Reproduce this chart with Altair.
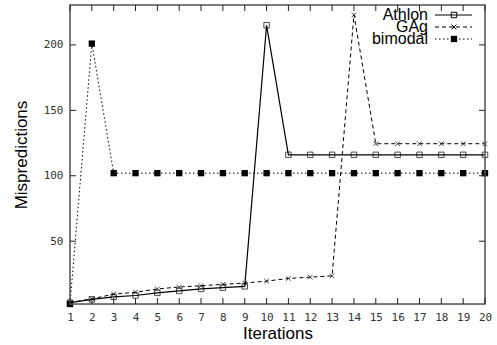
import altair as alt
import pandas as pd

iterations = list(range(1, 21))
athlon = [3, 5.5, 7.5, 8.5, 10.5, 12, 13.5, 14.5, 15.5, 215,
          116, 116, 116, 116, 116, 116, 116, 116, 116, 116]
gag = [3, 6, 9.5, 11, 13.5, 15, 16, 17, 18, 19.5,
       21.5, 22.5, 23.5, 223, 124.5, 124.5, 124.5, 124.5, 124.5, 124.5]
bimodal = [2, 201, 102, 102, 102, 102, 102, 102, 102, 102,
           102, 102, 102, 102, 102, 102, 102, 102, 102, 102]
y_ticks = [50, 100, 150, 200]
series_names = ["Athlon", "GAg", "bimodal"]

W, H = 415, 299
LABEL_FONT = "DejaVu Sans Mono"
TEXT_FONT = "Liberation Sans"

df = pd.DataFrame({"it": iterations, "Athlon": athlon, "GAg": gag, "bimodal": bimodal})
xs = alt.Scale(domain=[1, 20], nice=False, zero=False)
ys = alt.Scale(domain=[2, 230.5], nice=False, zero=False)

x_axis = alt.Axis(
    values=iterations, title="Iterations", domain=False, ticks=False, grid=False,
    labelFont=LABEL_FONT, labelFontSize=11, labelColor="#333", labelPadding=7,
    titleFont=TEXT_FONT, titleFontSize=17, titleFontWeight="normal", titleColor="#000",
    titlePadding=3, labelFlush=False)
y_axis = alt.Axis(
    values=y_ticks, title="Mispredictions", domain=False, ticks=False, grid=False,
    labelFont=LABEL_FONT, labelFontSize=11, labelColor="#333", labelPadding=7,
    titleFont=TEXT_FONT, titleFontSize=17, titleFontWeight="normal", titleColor="#000",
    titlePadding=13)


def X(field="it"):
    return alt.X(f"{field}:Q", scale=xs, axis=x_axis)


def Y(field):
    return alt.Y(f"{field}:Q", scale=ys, axis=y_axis)


base = alt.Chart(df)
square = "M-1,-1H1V1H-1Z"
xshape = "M-1,-1L1,1M-1,1L1,-1"

athlon_line = base.mark_line(color="#000", strokeWidth=1.2).encode(x=X(), y=Y("Athlon"))
athlon_pts = base.mark_point(shape=square, filled=False, color="#000", size=30, strokeWidth=1).encode(x=X(), y=Y("Athlon"))
gag_line = base.mark_line(color="#000", strokeWidth=1, strokeDash=[4, 3]).encode(x=X(), y=Y("GAg"))
gag_pts = base.mark_point(shape=xshape, filled=False, color="#000", size=22, strokeWidth=1).encode(x=X(), y=Y("GAg"))
bim_line = base.mark_line(color="#000", strokeWidth=1, strokeDash=[1.5, 2.5]).encode(x=X(), y=Y("bimodal"))
bim_pts = base.mark_point(shape=square, filled=True, color="#000", size=40, opacity=1).encode(x=X(), y=Y("bimodal"))

# frame
frame = alt.Chart(pd.DataFrame({"a": [0]})).mark_rect(fillOpacity=0, stroke="#555", strokeWidth=1.5).encode(
    x=alt.value(0), x2=alt.value(W), y=alt.value(0), y2=alt.value(H))

# inward ticks
xt = pd.DataFrame({"it": iterations})
xt_bottom = alt.Chart(xt).mark_rule(color="#222", strokeWidth=1).encode(
    x=X(), y=alt.value(H), y2=alt.value(H - 6))
xt_top = alt.Chart(xt).mark_rule(color="#222", strokeWidth=1).encode(
    x=X(), y=alt.value(0), y2=alt.value(6))
yt = pd.DataFrame({"v": y_ticks})
yt_left = alt.Chart(yt).mark_rule(color="#222", strokeWidth=1).encode(
    y=Y("v"), x=alt.value(0), x2=alt.value(6))
yt_right = alt.Chart(yt).mark_rule(color="#222", strokeWidth=1).encode(
    y=Y("v"), x=alt.value(W - 6), x2=alt.value(W))

# legend
leg_y = [10, 22, 34]
leg_x_text = 358
lx1, lx2, lm = 365, 402, 384
one = pd.DataFrame({"a": [0]})
legend_layers = []
dashes = [None, [4, 3], [1.5, 2.5]]
for i, name in enumerate(series_names):
    legend_layers.append(alt.Chart(one).mark_text(
        text=name, align="right", baseline="middle", font=TEXT_FONT, fontSize=16, color="#000").encode(
        x=alt.value(leg_x_text), y=alt.value(leg_y[i])))
    kw = {"color": "#000", "strokeWidth": 1.2 if i == 0 else 1}
    if dashes[i]:
        kw["strokeDash"] = dashes[i]
    legend_layers.append(alt.Chart(one).mark_rule(**kw).encode(
        x=alt.value(lx1), x2=alt.value(lx2), y=alt.value(leg_y[i])))
shp = [square, xshape, square]
fil = [False, False, True]
for i in range(3):
    legend_layers.append(alt.Chart(one).mark_point(
        shape=shp[i], filled=fil[i], color="#000", size=[30, 22, 40][i], opacity=1, strokeWidth=1).encode(
        x=alt.value(lm), y=alt.value(leg_y[i])))

chart = alt.layer(
    bim_line, gag_line, athlon_line, bim_pts, gag_pts, athlon_pts,
    frame, xt_bottom, xt_top, yt_left, yt_right,
    *legend_layers
).properties(
    width=W, height=H,
    autosize=alt.AutoSizeParams(type="none"),
    padding={"left": 70, "top": 5, "right": 12, "bottom": 41},
).configure_view(stroke=None).configure(background="white")

chart.save("out.html", embed_options={"renderer": "svg", "actions": False})
